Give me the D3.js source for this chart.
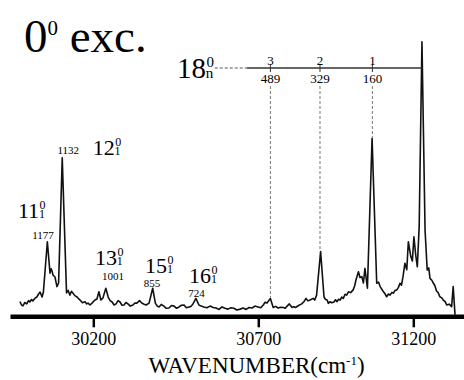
<!DOCTYPE html>
<html>
<head>
<meta charset="utf-8">
<script src="https://cdn.jsdelivr.net/npm/d3@7"></script>
<style>
  body { margin: 0; background: #fff; font-family: "Liberation Serif"; }
</style>
</head>
<body>
<div id="chart"></div>
<script>
// Espectro (numero de onda en cm-1, intensidad relativa)
const wavenumber = [
  29978, 29983, 29987, 29993, 29999, 30004, 30008, 30013, 30017, 30023,
  30029, 30034, 30039, 30045, 30049, 30061, 30069, 30072, 30075, 30078,
  30084, 30090, 30095, 30106, 30119, 30124, 30129, 30134, 30138, 30144,
  30151, 30156, 30160, 30167, 30175, 30180, 30184, 30190, 30196, 30205,
  30211, 30217, 30223, 30229, 30238, 30245, 30251, 30257, 30263, 30269,
  30275, 30281, 30287, 30293, 30299, 30305, 30312, 30320, 30326, 30332,
  30340, 30347, 30354, 30360, 30369, 30380, 30388, 30394, 30399, 30406,
  30414, 30421, 30429, 30437, 30445, 30452, 30460, 30467, 30475, 30482,
  30490, 30496, 30502, 30511, 30520, 30527, 30535, 30544, 30554, 30563,
  30572, 30581, 30590, 30599, 30608, 30617, 30626, 30635, 30645, 30654,
  30663, 30672, 30681, 30690, 30699, 30708, 30716, 30722, 30728, 30739,
  30748, 30756, 30764, 30772, 30781, 30787, 30793, 30800, 30809, 30814,
  30820, 30830, 30840, 30847, 30854, 30860, 30867, 30877, 30882, 30888,
  30901, 30912, 30917, 30922, 30926, 30931, 30937, 30944, 30949, 30954,
  30959, 30964, 30969, 30974, 30980, 30985, 30991, 30998, 31006, 31011,
  31015, 31023, 31028, 31034, 31039, 31044, 31052, 31067, 31082, 31088,
  31093, 31102, 31108, 31114, 31120, 31125, 31131, 31136, 31141, 31147,
  31152, 31157, 31162, 31167, 31173, 31179, 31184, 31192, 31197, 31202,
  31208, 31213, 31219, 31228, 31238, 31245, 31250, 31254, 31260, 31265,
  31270, 31275, 31280, 31286, 31292, 31297, 31303, 31308, 31316, 31324,
  31329, 31335
];
const intensity = [
  5.2, 4.0, 3.7, 4.9, 4.4, 5.6, 5.1, 6.0, 5.5, 6.4,
  6.9, 7.9, 8.7, 6.9, 8.7, 27.0, 15.6, 17.2, 16.4, 14.9,
  14.2, 10.7, 12.0, 57.5, 8.4, 9.3, 7.6, 9.0, 8.4, 7.4,
  6.9, 6.2, 5.8, 4.8, 5.2, 4.4, 4.7, 4.0, 4.7, 5.8,
  6.2, 8.8, 5.8, 6.5, 10.1, 6.9, 5.6, 5.1, 4.0, 4.4,
  5.6, 5.1, 3.9, 4.0, 4.9, 4.4, 3.6, 4.0, 4.7, 4.7,
  5.6, 4.7, 4.3, 4.0, 4.7, 10.1, 4.7, 3.6, 3.3, 4.2,
  3.6, 2.8, 2.9, 3.8, 3.6, 2.8, 3.3, 3.9, 4.0, 3.0,
  3.3, 3.5, 4.4, 6.4, 4.0, 3.6, 3.3, 3.0, 3.6, 3.1,
  2.9, 2.4, 3.3, 2.8, 2.5, 3.0, 2.8, 2.2, 2.5, 2.9,
  2.4, 3.1, 2.9, 3.6, 3.3, 3.0, 4.0, 5.0, 4.7, 6.4,
  3.1, 3.5, 2.9, 3.2, 3.1, 2.8, 3.6, 4.4, 3.1, 3.4,
  3.1, 3.8, 4.4, 5.2, 6.4, 5.5, 5.8, 6.4, 5.8, 7.6,
  23.4, 6.9, 6.0, 5.8, 4.6, 5.2, 4.8, 5.1, 5.9, 5.2,
  6.1, 5.8, 6.9, 6.4, 7.9, 7.6, 8.8, 8.5, 9.5, 11.0,
  13.1, 16.1, 14.0, 14.3, 12.0, 17.3, 10.1, 64.6, 11.9, 12.3,
  10.7, 9.1, 8.2, 7.0, 8.0, 7.6, 8.6, 8.3, 9.3, 9.5,
  10.4, 11.9, 11.2, 14.5, 19.2, 16.8, 27.0, 21.6, 20.0, 28.8,
  22.0, 17.9, 32.5, 99.7, 31.3, 16.7, 17.5, 13.7, 13.0, 11.9,
  11.0, 9.1, 8.6, 7.0, 6.6, 5.8, 5.2, 4.0, 4.3, 3.4,
  10.7, 0.4
];

const tickValues = [30200, 30700, 31200];

// Progresion 18_n^0 desde el origen 0-0
const originWn = 31228;
const progQuanta = ["1", "2", "3"];
const progShifts = [160, 329, 489];

// Bandas etiquetadas
const bandNames = ["11", "12", "13", "15", "16"];
const bandShifts = [1177, 1132, 1001, 855, 724];
const bandLabelWn = [29972, 30198, 30205, 30357, 30490];
const bandLabelI = [35.6, 58.5, 18.5, 15.6, 12.0];
const shiftLabelWn = [30048, 30124, 30260, 30378, 30513];
const shiftLabelI = [28.0, 58.9, 13.1, 10.5, 6.9];

const width = 464;
const height = 380;
const serif = "Liberation Serif";

const svg = d3.select("#chart")
    .append("svg")
    .attr("width", width)
    .attr("height", height);

// Titulo
const title = svg.append("text")
    .attr("x", 24).attr("y", 52)
    .attr("font-family", serif)
    .attr("font-size", 47);
title.append("tspan").text("0");
title.append("tspan").attr("font-size", 21).attr("dy", -17).text("0");
title.append("tspan").attr("dy", 17).text(" exc.");

// la escala del original no es del todo lineal
const x = d3.scaleLinear()
    .domain([29948, 30200, 30700, 31200, 31364])
    .range([10, 93.3, 258.3, 413.3, 464]);

const y = d3.scaleLinear()
    .domain([0, 100])
    .range([316, 41]);

const data = wavenumber.map((w, i) => ({w: w, v: intensity[i]}));

// Eje
const axis = svg.append("g")
    .attr("transform", "translate(0,316.3)")
    .call(d3.axisBottom(x).tickValues(tickValues).tickSize(11).tickSizeOuter(0).tickPadding(5)
        .tickFormat(d3.format("d")));
axis.attr("font-family", serif).attr("font-size", 18);
axis.select(".domain").attr("stroke", "#000").attr("stroke-width", 4.5);
axis.selectAll(".tick line").attr("stroke", "#000").attr("stroke-width", 2.5);
axis.selectAll(".tick text").attr("font-family", serif);

// Titulo del eje
const xt = svg.append("text")
    .attr("x", 256.5)
    .attr("y", 373)
    .attr("text-anchor", "middle")
    .attr("font-family", serif)
    .attr("font-size", 23);
xt.append("tspan").text("WAVENUMBER(cm");
xt.append("tspan").attr("font-size", 13).attr("dy", -8).text("-1");
xt.append("tspan").attr("dy", 8).text(")");

// Lineas verticales punteadas de la progresion
progShifts.forEach(function (s) {
    const target = originWn - s;
    const near = d3.least(data, d => Math.abs(d.w - target));
    svg.append("line")
        .attr("x1", x(target)).attr("x2", x(target))
        .attr("y1", 86).attr("y2", y(near.v) - 1)
        .attr("stroke", "#777")
        .attr("stroke-width", 1)
        .attr("stroke-dasharray", "3,2");
});

// Espectro
const line = d3.line()
    .x(d => x(d.w))
    .y(d => y(d.v));

svg.append("path")
    .datum(data)
    .attr("d", line)
    .attr("fill", "none")
    .attr("stroke", "#111")
    .attr("stroke-width", 1.6)
    .attr("stroke-linejoin", "round");

// Barra de la progresion
const barY = 68;
svg.append("line")
    .attr("x1", x(originWn - 562)).attr("x2", x(originWn))
    .attr("y1", barY).attr("y2", barY)
    .attr("stroke", "#333").attr("stroke-width", 1.3);
svg.append("line")
    .attr("x1", x(originWn - 660)).attr("x2", x(originWn - 562))
    .attr("y1", barY).attr("y2", barY)
    .attr("stroke", "#555").attr("stroke-width", 1)
    .attr("stroke-dasharray", "3,2");

progShifts.forEach(function (s, i) {
    const px = x(originWn - s);
    svg.append("line")
        .attr("x1", px).attr("x2", px)
        .attr("y1", barY - 4).attr("y2", barY + 4)
        .attr("stroke", "#333").attr("stroke-width", 1);
    svg.append("text")
        .attr("x", px).attr("y", barY - 3)
        .attr("text-anchor", "middle")
        .attr("font-family", serif)
        .attr("font-size", 13)
        .text(progQuanta[i]);
    svg.append("text")
        .attr("x", px).attr("y", barY + 15)
        .attr("text-anchor", "middle")
        .attr("font-family", serif)
        .attr("font-size", 13)
        .text(s);
});

// Etiqueta con superindice y subindice apilados (un solo texto)
function etiqueta(px, py, main, sup, sub, size, small, supDy) {
    const t = svg.append("text")
        .attr("x", px).attr("y", py)
        .attr("font-family", serif)
        .attr("font-size", size);
    t.append("tspan").text(main);
    t.append("tspan")
        .attr("font-size", small).attr("dx", 0.5).attr("dy", -supDy)
        .text(sup);
    t.append("tspan")
        .attr("font-size", small).attr("dx", -small * 0.55).attr("dy", supDy)
        .text(sub);
}

bandNames.forEach(function (b, i) {
    etiqueta(x(bandLabelWn[i]), y(bandLabelI[i]), b, "0", "1", 22, 12, 9);
    svg.append("text")
        .attr("x", x(shiftLabelWn[i]))
        .attr("y", y(shiftLabelI[i]))
        .attr("text-anchor", "middle")
        .attr("font-family", serif)
        .attr("font-size", 11)
        .text(bandShifts[i]);
});

etiqueta(177, 78, "18", "0", "n", 29, 15, 11);
</script>
</body>
</html>
